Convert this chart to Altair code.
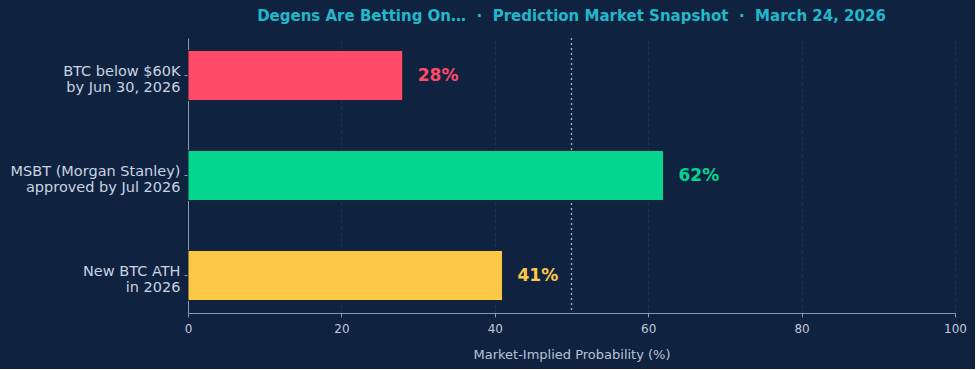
import altair as alt
import pandas as pd

categories = ["BTC below $60K|by Jun 30, 2026", "MSBT (Morgan Stanley)|approved by Jul 2026", "New BTC ATH|in 2026"]
probabilities = [28, 62, 41]
colors = ["#ff4b68", "#05d68f", "#fbc946"]
labels = ["28%", "62%", "41%"]
threshold = [50]

df = pd.DataFrame({"cat": categories, "p": probabilities, "lab": labels, "col": colors})
ref = pd.DataFrame({"x": threshold})

BG = "#0f2240"
FONT = "DejaVu Sans"
NB = "\u00a0"

y_enc = alt.Y("cat:N", sort=categories, title=None,
              scale=alt.Scale(paddingInner=0.5, paddingOuter=0.125),
              axis=alt.Axis(labelExpr="split(datum.label, '|')", labelColor="#c9d3e0",
                            labelFontSize=14.5, labelFont=FONT, labelLineHeight=16.5,
                            labelOffset=-4,
                            tickColor="#8a9ab2", tickSize=4, domainColor="#8a9ab2",
                            labelPadding=4, minExtent=183, maxExtent=183, grid=False))
x_enc = alt.X("p:Q", scale=alt.Scale(domain=[0, 100], nice=False),
              title="Market-Implied Probability (%)",
              axis=alt.Axis(values=[0, 20, 40, 60, 80, 100], labelColor="#c0c9d8",
                            labelFontSize=12, labelFont=FONT, titleColor="#b9c3d3",
                            titleFontSize=13, titleFont=FONT, titleFontWeight="normal",
                            titlePadding=14, tickColor="#8a9ab2", domainColor="#8a9ab2",
                            tickSize=4, labelPadding=6, labelFlush=False,
                            grid=True, gridColor="#2a3d5c", gridDash=[3, 3], gridOpacity=0.6))

color_scale = alt.Scale(domain=categories, range=colors)

bars = alt.Chart(df).mark_bar(stroke="#1a2436", strokeWidth=1).encode(
    y=y_enc, x=x_enc,
    color=alt.Color("cat:N", scale=color_scale, legend=None),
)

text = alt.Chart(df).mark_text(align="left", baseline="middle", dx=15, fontSize=17,
                               fontWeight="bold", font=FONT).encode(
    y=alt.Y("cat:N", sort=categories),
    x="p:Q",
    text="lab:N",
    color=alt.Color("cat:N", scale=color_scale, legend=None),
)

rule = alt.Chart(ref).mark_rule(color="#aab6c8", strokeDash=[2, 3], strokeWidth=1.3).encode(
    x="x:Q"
)

title_text = ("Degens Are Betting On…" + NB * 2 + "·" + NB * 2 + "Prediction Market Snapshot"
              + NB * 2 + "·" + NB * 2 + "March 24, 2026")

chart = alt.layer(rule, bars, text).properties(
    width=767, height=275,
    background=BG,
    padding={"left": 5, "right": 8, "top": 9, "bottom": 8},
    title=alt.TitleParams(title_text,
                          color="#22b8cc", fontSize=15, font=FONT, fontWeight="bold",
                          anchor="middle", offset=13),
).configure_view(fill=BG, stroke=None)

chart.save("out.html", embed_options={"renderer": "svg", "actions": False})
